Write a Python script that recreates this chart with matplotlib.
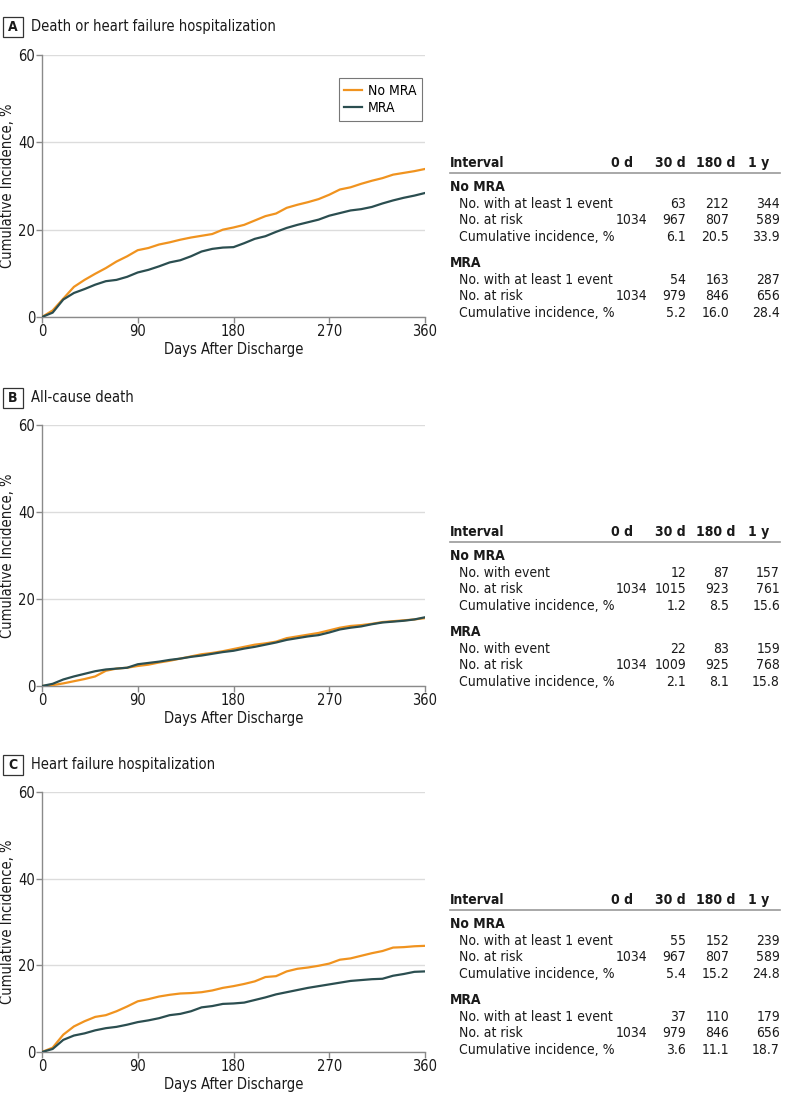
import matplotlib
matplotlib.use("Agg")
import matplotlib.pyplot as plt
from matplotlib.patches import Rectangle

plt.rcParams['font.family'] = ['DejaVu Sans']
plt.rcParams['font.stretch'] = 'condensed'

W, H = 785, 1107

# ---------------- data ----------------
days = [0, 10, 20, 30, 40, 50, 60, 70, 80, 90, 100, 110, 120, 130, 140, 150, 160, 170, 180,
        190, 200, 210, 220, 230, 240, 250, 260, 270, 280, 290, 300, 310, 320, 330, 340, 350, 360]

a_no_mra = [0, 1.5, 4.2, 6.9, 8.5, 9.9, 11.2, 12.7, 13.9, 15.3, 15.8, 16.6, 17.1, 17.7, 18.2, 18.6,
            19.0, 20.0, 20.5, 21.1, 22.1, 23.1, 23.7, 25.0, 25.7, 26.3, 27.0, 28.0, 29.2, 29.7, 30.5,
            31.2, 31.8, 32.6, 33.0, 33.4, 33.9]
a_mra = [0, 1.0, 4.0, 5.5, 6.4, 7.4, 8.2, 8.5, 9.2, 10.2, 10.8, 11.6, 12.5, 13.0, 13.9, 15.0, 15.6,
         15.9, 16.0, 16.9, 17.9, 18.5, 19.5, 20.4, 21.1, 21.7, 22.3, 23.2, 23.8, 24.4, 24.7, 25.2,
         26.0, 26.7, 27.3, 27.8, 28.4]

b_no_mra = [0, 0.2, 0.6, 1.1, 1.6, 2.2, 3.5, 4.0, 4.2, 4.6, 4.9, 5.4, 5.8, 6.3, 6.8, 7.3, 7.6, 8.0,
            8.5, 9.0, 9.5, 9.8, 10.2, 11.0, 11.4, 11.8, 12.2, 12.8, 13.4, 13.8, 14.0, 14.3, 14.7,
            14.9, 15.1, 15.3, 15.6]
b_mra = [0, 0.5, 1.5, 2.2, 2.8, 3.4, 3.8, 4.0, 4.2, 5.0, 5.3, 5.6, 6.0, 6.3, 6.7, 7.0, 7.4, 7.8,
         8.1, 8.6, 9.0, 9.5, 10.0, 10.6, 11.0, 11.4, 11.7, 12.3, 13.0, 13.4, 13.7, 14.2, 14.6,
         14.8, 15.0, 15.3, 15.8]

c_no_mra = [0, 1.0, 4.0, 5.9, 7.1, 8.1, 8.5, 9.4, 10.5, 11.7, 12.2, 12.8, 13.2, 13.5, 13.6, 13.8,
            14.2, 14.8, 15.2, 15.7, 16.3, 17.3, 17.5, 18.6, 19.2, 19.5, 19.9, 20.4, 21.3, 21.6, 22.2,
            22.8, 23.3, 24.1, 24.2, 24.4, 24.5]
c_mra = [0, 0.7, 2.8, 3.8, 4.3, 5.0, 5.5, 5.8, 6.3, 6.9, 7.3, 7.8, 8.5, 8.8, 9.4, 10.3, 10.6, 11.1,
         11.2, 11.4, 12.0, 12.6, 13.3, 13.8, 14.3, 14.8, 15.2, 15.6, 16.0, 16.4, 16.6, 16.8, 16.9,
         17.6, 18.0, 18.5, 18.6]

panel_letters = ["A", "B", "C"]
panel_titles = ["Death or heart failure hospitalization", "All-cause death",
                "Heart failure hospitalization"]
series_labels = ["No MRA", "MRA"]
x_ticks = [0, 90, 180, 270, 360]
y_ticks = [0, 20, 40, 60]
x_label = "Days After Discharge"
y_label = "Cumulative Incidence, %"

table_header = ["Interval", "0 d", "30 d", "180 d", "1 y"]
event_rows = ["No. with at least 1 event", "No. with event", "No. with at least 1 event"]
a_tab_no = [["", "63", "212", "344"], ["1034", "967", "807", "589"], ["", "6.1", "20.5", "33.9"]]
a_tab_mra = [["", "54", "163", "287"], ["1034", "979", "846", "656"], ["", "5.2", "16.0", "28.4"]]
b_tab_no = [["", "12", "87", "157"], ["1034", "1015", "923", "761"], ["", "1.2", "8.5", "15.6"]]
b_tab_mra = [["", "22", "83", "159"], ["1034", "1009", "925", "768"], ["", "2.1", "8.1", "15.8"]]
c_tab_no = [["", "55", "152", "239"], ["1034", "967", "807", "589"], ["", "5.4", "15.2", "24.8"]]
c_tab_mra = [["", "37", "110", "179"], ["1034", "979", "846", "656"], ["", "3.6", "11.1", "18.7"]]

# ---------------- style ----------------
ORANGE = "#F0931F"
TEAL = "#2B4E50"
GRID = "#DCDCDC"
SPINE = "#8A8A8A"
FS = 10.0

fig = plt.figure(figsize=(W / 100, H / 100), dpi=100)
fig.patch.set_facecolor("white")


def fx(x):
    return x / W


def fy(y):
    return 1 - y / H


def ptext(x, y, s, **kw):
    kw.setdefault("fontsize", FS)
    kw.setdefault("va", "center")
    kw.setdefault("color", "#1a1a1a")
    fig.text(fx(x), fy(y), s, **kw)


panels = [
    dict(top=55, bot=317, title_y=27, curves=(a_no_mra, a_mra), tab=(a_tab_no, a_tab_mra),
         tab_y=163, legend=True),
    dict(top=425, bot=686, title_y=398, curves=(b_no_mra, b_mra), tab=(b_tab_no, b_tab_mra),
         tab_y=532, legend=False),
    dict(top=792, bot=1052, title_y=765, curves=(c_no_mra, c_mra), tab=(c_tab_no, c_tab_mra),
         tab_y=900, legend=False),
]

left, right = 42, 425
for i, p in enumerate(panels):
    ax = fig.add_axes([fx(left), fy(p["bot"]), (right - left) / W, (p["bot"] - p["top"]) / H])
    no, mra = p["curves"]
    ax.plot(days, no, color=ORANGE, lw=1.6, label=series_labels[0], zorder=3)
    ax.plot(days, mra, color=TEAL, lw=1.6, label=series_labels[1], zorder=4)
    ax.set_xlim(0, 360)
    ax.set_ylim(0, 60)
    ax.set_xticks(x_ticks)
    ax.set_yticks(y_ticks)
    ax.yaxis.grid(True, color=GRID, lw=1.0)
    ax.set_axisbelow(True)
    for s in ["top", "right"]:
        ax.spines[s].set_visible(False)
    for s in ["left", "bottom"]:
        ax.spines[s].set_color(SPINE)
        ax.spines[s].set_linewidth(1.0)
    ax.tick_params(axis="both", colors=SPINE, labelcolor="#1a1a1a", labelsize=FS + 0.5,
                   length=4, width=1.0, pad=1)
    ax.set_xlabel(x_label, fontsize=FS + 0.5, labelpad=2, color="#1a1a1a")
    ax.set_ylabel(y_label, fontsize=FS + 0.5, labelpad=2, color="#1a1a1a")
    if p["legend"]:
        leg = ax.legend(loc="upper right", bbox_to_anchor=(0.992, 0.912), frameon=True,
                        fancybox=False, fontsize=FS, handlelength=1.3, handletextpad=0.4,
                        borderpad=0.4, labelspacing=0.25, borderaxespad=0)
        leg.get_frame().set_edgecolor("#555555")
        leg.get_frame().set_linewidth(0.8)

    # panel letter and title
    ty = p["title_y"]
    fig.patches.append(Rectangle((fx(3), fy(ty + 10)), 20 / W, 20 / H, transform=fig.transFigure,
                                 fill=False, edgecolor="#333333", lw=0.9))
    ptext(13, ty, panel_letters[i], ha="center", fontsize=FS, fontweight="bold")
    ptext(31, ty, panel_titles[i], ha="left", fontsize=FS + 0.5)

    # table
    y0 = p["tab_y"]
    ptext(450, y0, table_header[0], ha="left", fontweight="bold")
    hdr_x = [633, 686, 735, 769]
    for hx, h in zip(hdr_x, table_header[1:]):
        ptext(hx, y0, h, ha="right", fontweight="bold")
    fig.add_artist(plt.Line2D([fx(450), fx(780)], [fy(y0 + 10), fy(y0 + 10)],
                              transform=fig.transFigure, color="#999999", lw=1.2))
    row_labels = [event_rows[i], "No. at risk", "Cumulative incidence, %"]
    num_x = [647, 686, 729, 780]
    groups = [(series_labels[0], p["tab"][0], y0 + 24), (series_labels[1], p["tab"][1], y0 + 100)]
    for gname, rows, gy in groups:
        ptext(450, gy, gname, ha="left", fontweight="bold")
        for r, (rl, vals) in enumerate(zip(row_labels, rows)):
            ry = gy + 16.7 * (r + 1)
            ptext(459, ry, rl, ha="left")
            for nx, v in zip(num_x, vals):
                ptext(nx, ry, v, ha="right")

fig.savefig("out.png", dpi=100)
